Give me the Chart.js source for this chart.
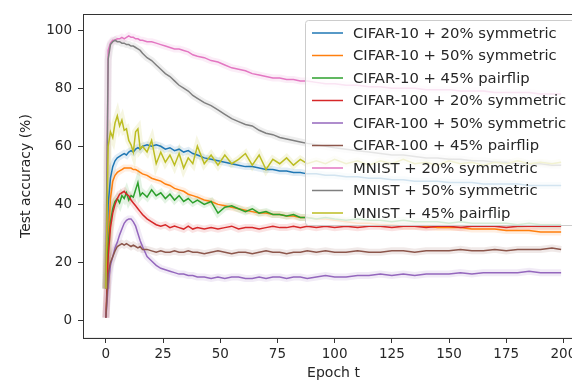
<!DOCTYPE html>
<html>
<head>
<meta charset="utf-8">
<script src="https://cdn.jsdelivr.net/npm/chart.js@4.4.1/dist/chart.umd.min.js"></script>
<style>
  html, body { margin: 0; padding: 0; background: #fff; overflow: hidden; }
  #wrap { width: 572px; height: 383px; overflow: hidden; }
</style>
</head>
<body>
<div id="wrap"><canvas id="accChart" width="600" height="383"></canvas></div>
<script>
const epochs = [0,1,2,3,4,5,6,7,8,9,10,11,12,13,14,15,16,
  18,20,22,24,26,28,30,32,34,36,38,40,
  43,46,49,52,55,58,61,64,67,70,73,76,79,82,85,88,
  92,96,100,
  105,110,115,120,125,130,135,140,145,150,155,160,165,170,175,180,185,190,195,199];

const xTicks = [0, 25, 50, 75, 100, 125, 150, 175, 200];
const yTicks = [0, 20, 40, 60, 80, 100];

const labels = [
  "CIFAR-10 + 20% symmetric",
  "CIFAR-10 + 50% symmetric",
  "CIFAR-10 + 45% pairflip",
  "CIFAR-100 + 20% symmetric",
  "CIFAR-100 + 50% symmetric",
  "CIFAR-100 + 45% pairflip",
  "MNIST + 20% symmetric",
  "MNIST + 50% symmetric",
  "MNIST + 45% pairflip"
];

const cifar10Sym20 = [11,40,49,53,55,56,56.5,57,57.5,57,58,58.5,58,59,59.5,59,60,
  60.5,60,60.5,60,59,59.5,58.5,59,58,58.5,57.5,57,
  56,55.5,55,54.5,54,53.5,53,53,52.5,52,52,51.5,51.5,51,51,50.5,
  50.5,50,50,
  49.5,49.5,49,49,48.5,48.5,48,48,48,47.5,47.5,47.5,47,47,47,47,46.5,46.5,46.5,46.5];

const cifar10Sym50 = [11,28,42,48,50,51,51.5,52,52.5,52.5,52.5,52.5,52,52,51.5,51,50.5,
  50,49,48.5,48,47,46.5,45.5,45,44.5,43.5,43,42.5,
  41.5,41,40,39.5,39,38.5,38,37.5,37,37,36.5,36.5,36,36,35.5,35.5,
  35,35,34.5,
  34,33.5,33.5,33,33,32.5,32.5,32.5,32,32,32,31.5,31.5,31.5,31,31,31,30.5,30.5,30.5];

const cifar10Pair45 = [11,26,34,38.5,41,42,40.5,43,42,44,41.5,43,42.5,45,47.5,43,44,
  42.5,45,43,44,42,43.5,41.5,43,41,42,40.5,41.5,
  40,41,37,39,39.5,38.5,37.5,38.5,37,37.5,36.5,36.5,36,36.5,35.5,35.5,
  35,35.5,35,
  34.5,35,34.5,34.5,34,34.5,34,34,34,33.5,34,33.5,33.5,33.5,33.5,33,33.5,33,33,33];

const cifar100Sym20 = [1,22,32,37,40,42,43.5,44,44.5,43.5,43,41.5,40.5,39.5,38.5,37.5,36.5,
  35,34,33,32.5,33,32,32.5,32,31.5,32.5,31.5,32,
  31.5,32,31.5,32,32.5,31.5,32,32,31.5,32,32.5,32,32,32.5,32,32.5,
  32,32.5,32,
  32.5,32,32.5,32.5,32,32.5,32.5,32,32.5,32.5,32,32.5,32.5,32.5,32,32.5,32.5,32.5,32.5,32.5];

const cifar100Sym50 = [1,12,19,22,25,27,29.5,31.5,33.5,34.5,35,35,34,32.5,30,27.5,25.5,
  22,20.5,19,18,17.5,17,16.5,16,16,15.5,15.5,15,
  15,14.5,15,14.5,15,15,14.5,14.5,15,14.5,15,15,14.5,15,15,14.5,
  15,15.5,15,
  15,15.5,15.5,16,15.5,16,15.5,16,16,16,16.5,16,16.5,16.5,16.5,16.5,17,16.5,16.5,16.5];

const cifar100Pair45 = [1,16,20,22,24,25.5,26,26.5,26,26.5,26,25.5,26,25.5,25,25.5,24.5,
  24.5,24,23.5,24,23.5,23.5,24,23.5,23.5,24,23.5,23.5,
  23,23.5,24,23.5,23,23.5,23.5,23,23.5,24,23.5,23.5,23,23.5,23.5,24,
  23.5,24,23.5,
  23.5,24,23.5,23.5,24,24,23.5,24,24,24,24.5,24,24,24.5,24,24.5,24.5,24.5,25,24.5];

const mnistSym20 = [11,93,95.5,96.5,96.5,97,97,97.5,97,97.5,98,97.5,97.5,97,97,96.5,96.5,
  96,96,95.5,95,94.5,94,93.5,93.5,93,92.5,91.5,91,
  90.5,89.5,89,88,87,86.5,86,85,84.5,84,83.5,83.5,83,83,82.5,82.5,
  82,81.5,81.5,
  81,81,80.5,80.5,80,80,80,79.5,79.5,79.5,79,79,79,78.5,78.5,78.5,78.5,78,78,78];

const mnistSym50 = [11,90,95,96,96.5,96,96,95.5,95.5,95,95,94.5,94.5,94,93.5,93,92,
  90.5,89.5,88,86.5,85,84,82.5,81,80,79,77.5,76.5,
  75,74,72.5,71,69.5,68.5,67.5,67,65.5,64.5,64,63,62.5,62,61.5,61,
  60.5,60,59.5,
  59,58.5,58,57.5,57,57,56.5,56,56,55.5,55.5,55,55,54.5,54.5,54,54,54,53.5,53.5];

const mnistPair45 = [11,60,65,63,68,70.5,67,69,65.5,66,62,60.5,58,65,66,59,60,
  58,62,54,58,54.5,57,53.5,57.5,52.5,56,54,60,
  54,57,53.5,57,54,55.5,57.5,53.5,57,52,55.5,54,56,53.5,55.5,54,
  55,54,55.5,
  54,55,53.5,55,54,55.5,54,54.5,53.5,55,54,54.5,53.5,54.5,54,55,54,54.5,54,54.5];

const seriesValues = [cifar10Sym20, cifar10Sym50, cifar10Pair45, cifar100Sym20,
  cifar100Sym50, cifar100Pair45, mnistSym20, mnistSym50, mnistPair45];

const colors = ["#1f77b4","#ff7f0e","#2ca02c","#d62728","#9467bd","#8c564b","#e377c2","#7f7f7f","#bcbd22"];

function hexA(hex, a) {
  const n = parseInt(hex.slice(1), 16);
  return `rgba(${(n >> 16) & 255},${(n >> 8) & 255},${n & 255},${a})`;
}

const datasets = [];
seriesValues.forEach((vals, i) => {
  const pts = epochs.map((e, k) => ({ x: e, y: vals[k] }));
  // faint band under each curve
  datasets.push({
    label: labels[i] + " band", data: pts, borderColor: hexA(colors[i], 0.13),
    borderWidth: 7, pointRadius: 0, tension: 0, order: 40 - i
  });
  datasets.push({
    label: labels[i], data: pts, borderColor: colors[i],
    borderWidth: 1.5, pointRadius: 0, tension: 0, order: 20 - i
  });
});

const FONT = "'DejaVu Sans', sans-serif";
const TXT = "#262626";

const framePlugin = {
  id: 'frame',
  afterDraw(chart) {
    const { ctx, chartArea: a } = chart;
    ctx.save();
    ctx.strokeStyle = "#333";
    ctx.lineWidth = 1;
    ctx.strokeRect(Math.round(a.left) + 0.5, Math.round(a.top) + 0.5, a.right - a.left, a.bottom - a.top);

    // legend box, matplotlib style
    const bx = 305.5, by = 20.5, bw = 300, bh = 205, r = 3;
    ctx.beginPath();
    ctx.moveTo(bx + r, by);
    ctx.lineTo(bx + bw - r, by);
    ctx.arcTo(bx + bw, by, bx + bw, by + r, r);
    ctx.lineTo(bx + bw, by + bh - r);
    ctx.arcTo(bx + bw, by + bh, bx + bw - r, by + bh, r);
    ctx.lineTo(bx + r, by + bh);
    ctx.arcTo(bx, by + bh, bx, by + bh - r, r);
    ctx.lineTo(bx, by + r);
    ctx.arcTo(bx, by, bx + r, by, r);
    ctx.closePath();
    ctx.fillStyle = "rgba(255,255,255,0.8)";
    ctx.fill();
    ctx.strokeStyle = "#cccccc";
    ctx.stroke();

    ctx.font = "14.8px " + FONT;
    ctx.textBaseline = "middle";
    ctx.textAlign = "left";
    labels.forEach((lab, i) => {
      const y = 33 + i * 22.5;
      ctx.strokeStyle = colors[i];
      ctx.lineWidth = 1.5;
      ctx.beginPath();
      ctx.moveTo(312, y);
      ctx.lineTo(343, y);
      ctx.stroke();
      ctx.fillStyle = TXT;
      ctx.fillText(lab, 353, y + 1);
    });
    ctx.restore();
  }
};

new Chart(document.getElementById("accChart"), {
  type: 'line',
  data: { datasets },
  options: {
    responsive: false,
    animation: false,
    layout: { padding: { top: 12, right: 16, left: 0, bottom: 0 } },
    plugins: { legend: { display: false }, tooltip: { enabled: false } },
    scales: {
      x: {
        type: 'linear', min: -10, max: 209,
        afterBuildTicks: s => { s.ticks = xTicks.map(v => ({ value: v })); },
        afterFit: s => { s.height = 45; },
        grid: { drawOnChartArea: false, drawTicks: true, tickLength: 5, color: "#333" },
        border: { display: true, color: "#333" },
        ticks: { font: { family: FONT, size: 13.5 }, color: TXT, padding: 3, maxRotation: 0 },
        title: { display: true, text: "Epoch t", font: { family: FONT, size: 14 }, color: TXT, padding: { top: 0, bottom: 1 } }
      },
      y: {
        min: -6, max: 105.5,
        afterBuildTicks: s => { s.ticks = yTicks.map(v => ({ value: v })); },
        afterFit: s => { s.width = 83; },
        grid: { drawOnChartArea: false, drawTicks: true, tickLength: 5, color: "#333" },
        border: { display: true, color: "#333" },
        ticks: { font: { family: FONT, size: 13.5 }, color: TXT, padding: 6 },
        title: { display: true, text: "Test accuracy (%)", font: { family: FONT, size: 14 }, color: TXT, padding: { top: 18, bottom: 0 } }
      }
    }
  },
  plugins: [framePlugin]
});
</script>
</body>
</html>
